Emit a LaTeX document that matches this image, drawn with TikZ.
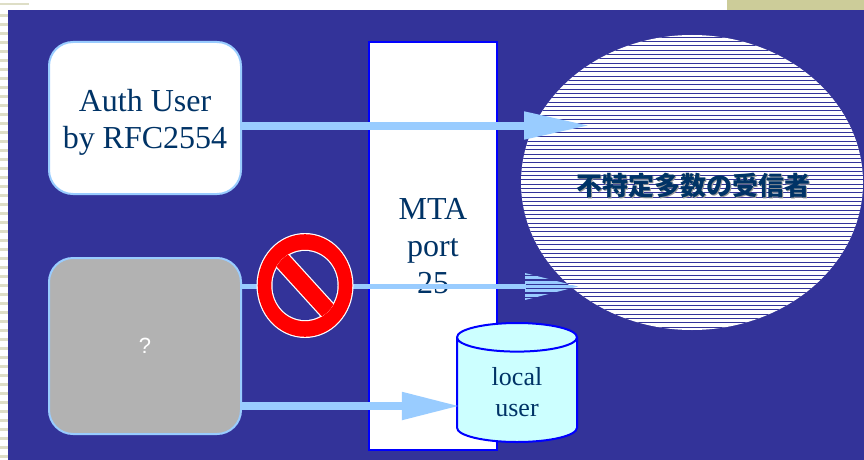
\documentclass[tikz,border=0pt]{standalone}
\usepackage{fontspec}
\setmainfont{Liberation Serif}
\newfontfamily\cjk{Noto Sans CJK JP}
\newfontfamily\helv{Liberation Sans}
\usetikzlibrary{arrows.meta,shapes.geometric}
\definecolor{bgblue}{HTML}{333399}
\definecolor{flowblue}{HTML}{99CCFF}
\definecolor{navy}{HTML}{003366}
\definecolor{beige}{HTML}{CCCC99}
\definecolor{stripe}{HTML}{DEDEC6}
\definecolor{cyl}{HTML}{CCFFFF}
\definecolor{grey}{HTML}{B2B2B2}
\tikzset{
  userbox/.style={draw=flowblue, line width=2pt, rounded corners=24pt, minimum width=192pt},
  boxtext/.style={text=navy, font=\fontsize{32}{37}\selectfont, align=center},
  flow/.style={flowblue, line width=8pt, -{Triangle[length=66pt,width=26pt]}},
}
\begin{document}
\begin{tikzpicture}[x=1pt, y=-1pt]
\useasboundingbox (0,0) rectangle (864,460);
%slide background
\fill[white] (0,0) rectangle (864,460);
\fill[beige] (727,0) rectangle (864,10);
\fill[stripe] (0,3) rectangle (29,5);
\foreach \y in {14,23,...,458}
  \fill[stripe] (0,\y) rectangle (8,\y+3);
\fill[bgblue] (8,10) rectangle (864,460);
%MTA
\node[draw=blue, fill=white, line width=2pt, minimum width=128pt, minimum height=408pt, boxtext] (mta) at (433,246) {MTA\\port\\25};
%recipients
\begin{scope}
  \clip (692,182.5) ellipse [x radius=171, y radius=147.5];
  \fill[white] (520,34) rectangle (864,331);
  \foreach \y in {37,41.33,...,331}
    \draw[bgblue, line width=0.8pt] (520,\y) -- (864,\y);
\end{scope}
\node[ellipse, minimum width=342pt, minimum height=295pt, inner sep=0pt] (crowd) at (692,182.5) {};
\node[text=gray!80, font=\cjk\bfseries\fontsize{26}{30}\selectfont] at ([shift={(2.5,4.5)}]crowd.center) {不特定多数の受信者};
\node[text=navy, font=\cjk\bfseries\fontsize{26}{30}\selectfont] (crowdtext) at ([shift={(1,3)}]crowd.center) {不特定多数の受信者};
%senders
\node[userbox, fill=white, minimum height=152pt, boxtext] (auth) at (145,118) {\rule{0pt}{30pt}Auth User\\by RFC2554};
\node[userbox, fill=grey, minimum height=176pt, text=white, font=\helv\fontsize{22}{26}\selectfont] (unknown) at (145,346) {?};
%local user
\node[cylinder, shape border rotate=90, draw=blue, fill=cyl, line width=2pt, minimum width=120pt, minimum height=119pt, aspect=0.5, boxtext, font=\fontsize{26}{31}\selectfont] (local) at (517,392.5) {local\\user};
%arrows
\coordinate (topend) at (590,125.5);
\draw[flow] (auth.east |- topend) -- (topend);
\coordinate (midend) at (578,286.5);
\draw[flowblue, line width=5pt] (unknown.east |- midend) -- ([xshift=-52]midend);
\begin{scope}
  \clip ([shift={(-53,-13.5)}]midend) -- (midend) -- ([shift={(-53,13.5)}]midend) -- cycle;
  \foreach \y in {272,276.33,...,301}
    \fill[flowblue] (520,\y) rectangle (590,\y+3);
\end{scope}
\draw[flow, -{Triangle[length=58pt,width=26pt]}, shorten >=-4pt] (unknown.east |- 0,406) -- (local.west |- 0,406);
%no entry sign
\node[ellipse, minimum width=97pt, minimum height=105pt, inner sep=0pt] (ban) at (305,285.5) {};
\fill[white] (ban.center) ellipse [x radius=48.5, y radius=52.5];
\fill[red] (ban.center) ellipse [x radius=47.3, y radius=51.3];
\fill[white] (ban.center) ellipse [x radius=33.7, y radius=35.7];
\fill[bgblue] (ban.center) ellipse [x radius=32.5, y radius=34.5];
\begin{scope}
  \clip (ban.center) ellipse [x radius=33.7, y radius=35.7];
  \draw[white, line width=19pt] ([shift={(-50,-55)}]ban.center) -- ([shift={(50,55)}]ban.center);
  \draw[red, line width=16.5pt] ([shift={(-50,-55)}]ban.center) -- ([shift={(50,55)}]ban.center);
\end{scope}
\end{tikzpicture}
\end{document}
